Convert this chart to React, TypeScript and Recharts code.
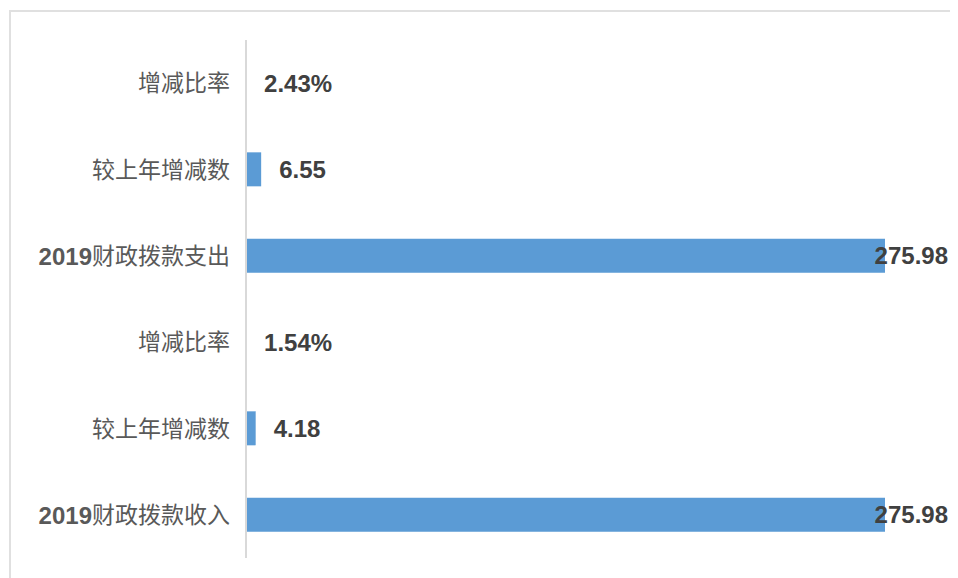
import React from 'react';
import { BarChart, Bar, XAxis, YAxis, LabelList } from 'recharts';

const categories = ['增减比率', '较上年增减数', '2019财政拨款支出', '增减比率', '较上年增减数', '2019财政拨款收入'];
const values = [0.0243, 6.55, 275.98, 0.0154, 4.18, 275.98];
const valueLabels = ['2.43%', '6.55', '275.98', '1.54%', '4.18', '275.98'];

const data = categories.map((c, i) => ({ id: i, name: c, value: values[i], label: valueLabels[i] }));

const W = 950;
const H = 570;
const FONT = "'Liberation Sans', Arial, 'Noto Sans CJK SC', sans-serif";

const charW = (ch: string) => (ch === '.' ? 0.278 : ch === '%' ? 0.889 : 0.556);

const CatTick = (props: any) => {
  const { x, y, payload } = props;
  const name = categories[payload.value] ?? '';
  const m = name.match(/^(\d+)(.*)$/);
  return (
    <text x={x - 8} y={y} textAnchor="end" dominantBaseline="central" fontFamily={FONT} fill="#595959">
      {m ? (
        <>
          <tspan fontWeight="bold" fontSize={24}>{m[1]}</tspan>
          <tspan fontSize={23}>{m[2]}</tspan>
        </>
      ) : (
        <tspan fontSize={23}>{name}</tspan>
      )}
    </text>
  );
};

const ValueLabel = (props: any) => {
  const { x, y, width, height, index } = props;
  const text = valueLabels[index];
  const end = x + width;
  const tw = text.split('').reduce((s: number, ch: string) => s + charW(ch), 0) * 24;
  let lx = end + 18;
  if (lx + tw > W - 10) lx = W - 10 - tw;
  return (
    <text x={lx} y={y + height / 2} dominantBaseline="central" fontFamily={FONT} fontSize={24} fontWeight="bold" fill="#404040">
      {text}
    </text>
  );
};

export default function App() {
  return (
    <div style={{ position: 'relative', width: W, height: H, background: '#fff', overflow: 'hidden' }}>
      <style>{'html, body { overflow: hidden; }'}</style>
      <div style={{ position: 'absolute', left: 1, top: 2, width: W + 20, height: H + 20, borderTop: '2px solid #e0e0e0', borderLeft: '2px solid #e0e0e0' }} />
      <BarChart width={W} height={H} data={data} layout="vertical" margin={{ top: 32, right: W - 877, bottom: H - 550, left: 0 }} style={{ position: 'absolute', left: 0, top: 0 }}>
        <XAxis type="number" hide domain={[0, 'dataMax']} />
        <YAxis type="category" dataKey="id" width={238} axisLine={{ stroke: '#d9d9d9', strokeWidth: 2 }} tickLine={false} tick={<CatTick />} interval={0} />
        <Bar dataKey="value" fill="#5b9bd5" barSize={34} isAnimationActive={false}>
          <LabelList dataKey="value" content={<ValueLabel />} />
        </Bar>
      </BarChart>
    </div>
  );
}
